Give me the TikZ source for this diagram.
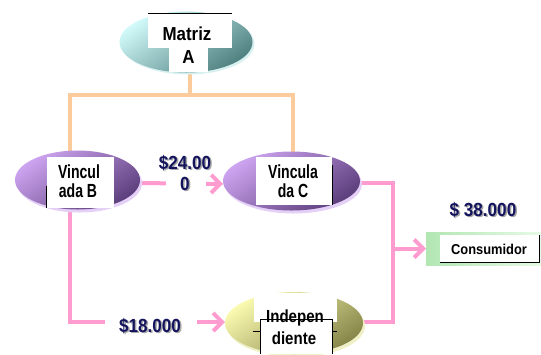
\documentclass[tikz,border=0pt]{standalone}
\usepackage{fontspec}
\setmainfont{Liberation Sans}
\newfontfamily\condfont[FakeStretch=0.74]{Liberation Sans}
\newfontfamily\semifont[FakeStretch=0.9]{Liberation Sans}
\newfontfamily\indfont[FakeStretch=0.86]{Liberation Sans}
\usetikzlibrary{arrows.meta,shapes.geometric,backgrounds,shadows}
\definecolor{pinkln}{HTML}{FF9CCF}
\definecolor{orangeln}{HTML}{FCCB9C}
\definecolor{navytxt}{HTML}{14145E}
\definecolor{cyanlt}{HTML}{D2FAFA}
\definecolor{cyandk}{HTML}{4F8080}
\definecolor{purplt}{HTML}{CDA4F0}
\definecolor{purpdk}{HTML}{5C3E7C}
\definecolor{purpsh}{HTML}{E4D0F6}
\definecolor{yellt}{HTML}{FAFAB0}
\definecolor{yeldk}{HTML}{86864A}
\definecolor{yelsh}{HTML}{F0F0C8}
\definecolor{cyansh}{HTML}{D8F0F0}
\definecolor{greenlt}{HTML}{B2E6B2}
\definecolor{greenrt}{HTML}{E6FAE6}
\begin{document}
\begin{tikzpicture}[x=1bp,y=-1bp,
  every node/.style={inner sep=0pt,outer sep=0pt},
  ell/.style={ellipse,draw=none},
  tbox/.style={rectangle,fill=white,draw=none},
  edge/.style={black,line width=0.8bp},
  boxtxt/.style={anchor=base,text=black,font=\semifont\bfseries\fontsize{18.8bp}{20bp}\selectfont},
  indtxt/.style={anchor=base,text=black,font=\indfont\bfseries\fontsize{17.5bp}{20bp}\selectfont},
  condtxt/.style={anchor=base,text=black,font=\condfont\bfseries\fontsize{19bp}{20bp}\selectfont},
  amount/.style={anchor=base,text=navytxt,font=\semifont\bfseries\fontsize{19bp}{20bp}\selectfont},
  amountsh/.style={anchor=base,text=black!35,font=\semifont\bfseries\fontsize{19bp}{20bp}\selectfont},
  orangelink/.style={orangeln,line width=4bp},
  pinklink/.style={pinkln,line width=4bp},
  pinkarrow/.style={pinkln,line width=4bp,-{Straight Barb[length=9bp,width=18bp]}}
]
\useasboundingbox (0,0) rectangle (541,354);

% ellipses
\node[ell,minimum width=133bp,minimum height=61bp,
  top color=cyanlt,bottom color=cyandk,shading angle=35,
  drop shadow={shadow xshift=2bp,shadow yshift=-2bp,fill=cyansh,opacity=1}] (ma) at (186,42) {};
\node[ell,minimum width=125bp,minimum height=59bp,
  top color=purplt,bottom color=purpdk,shading angle=35,
  drop shadow={shadow xshift=2bp,shadow yshift=-3bp,fill=purpsh,opacity=1}] (vb) at (77.5,180) {};
\node[ell,minimum width=137bp,minimum height=59bp,
  top color=purplt,bottom color=purpdk,shading angle=35,
  drop shadow={shadow xshift=2bp,shadow yshift=-3bp,fill=purpsh,opacity=1}] (vc) at (291.5,181) {};
\node[ell,minimum width=138bp,minimum height=62bp,
  top color=yellt,bottom color=yeldk,shading angle=35,
  drop shadow={shadow xshift=2bp,shadow yshift=-3bp,fill=yelsh,opacity=1}] (vi) at (294,323) {};
\node[rectangle,minimum width=115bp,minimum height=33bp,
  left color=greenlt,right color=greenrt] (cons) at (483.5,248.5) {};

% text boxes
\node[tbox,minimum width=84bp,minimum height=35bp] (maboxa) at (190,30.5) {};
\node[tbox,minimum width=39bp,minimum height=26bp] (maboxb) at (188.5,59) {};
\draw[edge] (maboxa.north west) -- (maboxa.north east);
\node[boxtxt] (matA) at (187,40) {Matriz};
\node[boxtxt] (matB) at (188.5,63) {A};

\node[tbox,minimum width=67bp,minimum height=51bp] (vbbox) at (80,182) {};
\draw[edge] ([yshift=-4bp]vbbox.west) -- (vbbox.south west);
\node[condtxt] (vbA) at (79,178) {Vincul};
\node[condtxt] (vbB) at (78,197) {ada B};

\node[tbox,minimum width=76bp,minimum height=48bp] (vcbox) at (294,181) {};
\draw[edge] ([yshift=-8bp]vcbox.north east) -- (vcbox.south east);
\node[condtxt] (vcA) at (293,178) {Vincula};
\node[condtxt] (vcB) at (293,197) {da C};

\node[tbox,minimum width=83bp,minimum height=29bp] (viboxa) at (295,307.5) {};
\node[tbox,minimum width=72bp,minimum height=35bp] (viboxb) at (296.5,336.5) {};
\draw[edge] (viboxb.south west) -- (viboxb.north west) -- (viboxb.north east) -- (viboxb.south east);
\draw[edge] ([xshift=-8bp,yshift=-12bp]viboxb.north west) -- ([yshift=-12bp]viboxb.north west);
\draw[edge] ([yshift=-12bp]viboxb.north east) -- ([xshift=4bp,yshift=-12bp]viboxb.north east);
\node[indtxt] (viA) at (295,322) {Indepen};
\node[indtxt] (viB) at (294,344) {diente};

\node[tbox,minimum width=99bp,minimum height=27bp] (consbox) at (489.5,248.5) {};
\draw[edge] (consbox.south west) -- (consbox.south east) -- (consbox.north east);
\node[anchor=base,font=\semifont\bfseries\fontsize{14.3bp}{16bp}\selectfont] (consT) at (489,254) {Consumidor};

% amounts
\node[amountsh] at (484.5,217.5) {\$ 38.000};
\node[amount] (amt38) at (483,216) {\$ 38.000};
\node[amountsh] at (186.5,170.5) {\$24.00};
\node[amount] (amt24) at (185,169) {\$24.00};
\node[fill=white,minimum width=40bp,minimum height=14bp] (gap24) at (186,184) {};
\node[amountsh] at (186.5,191.5) {0};
\node[amount] (amt24b) at (185,190) {0};
\node[fill=white,minimum width=92bp,minimum height=14bp] (gap18) at (151,326) {};
\node[amountsh] at (151.5,333.5) {\$18.000};
\node[amount] (amt18) at (150,332) {\$18.000};

% connector bend points
\coordinate (ot) at (190,95);
\coordinate (ol) at (70,95);
\coordinate (or) at (293,95);
\coordinate (pl) at (70,322);
\coordinate (pr) at (393,322);
\coordinate (pc) at (393,183);

\begin{pgfonlayer}{background}
\draw[orangelink] (ma.south -| ot) -- (ot);
\draw[orangelink] (vb.north -| ol) -- (ol) -- (or) -- (vc.north -| or);
\draw[pinkarrow] ([yshift=-3bp]vb.east) -- ([yshift=-3bp]vc.west);
\draw[pinkarrow] (vb.south -| pl) -- (pl) -- (vi.west |- pl);
\draw[pinklink] (vc.east |- pc) -- (pc) -- (pr) -- (vi.east |- pr);
\draw[pinkarrow] (pr |- cons.west) -- (cons.west);
\end{pgfonlayer}
\end{tikzpicture}
\end{document}
